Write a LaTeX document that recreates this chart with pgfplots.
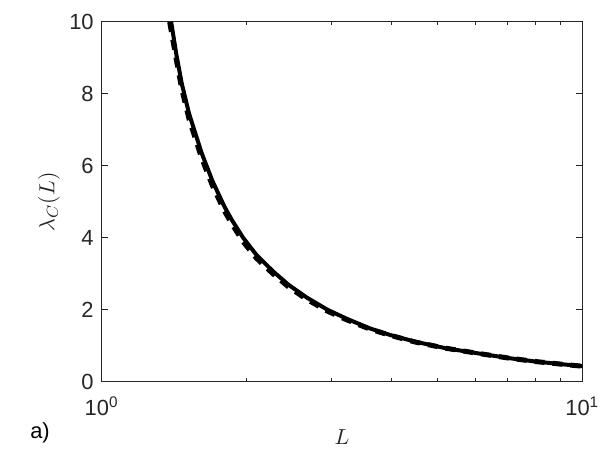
\documentclass[border=0pt]{standalone}
\usepackage{fontspec}
\setmainfont{Liberation Sans}
\usepackage{pgfplots}
\pgfplotsset{compat=1.18}
\definecolor{axgray}{RGB}{38,38,38}
\begin{document}
\begin{tikzpicture}
\useasboundingbox (-50.85bp,-34.15bp) rectangle (249.15bp,190.85bp);
\begin{axis}[
  at={(0,0)}, anchor=south west,
  scale only axis,
  width=240.3bp, height=179.85bp,
  xmode=log,
  xmin=1, xmax=10, ymin=0, ymax=10,
  xtick={1,10},
  xticklabels={10\textsuperscript{0},10\textsuperscript{1}},
  ytick={0,2,4,6,8,10},
  yticklabels={0,2,4,6,8,10},
  tick align=inside,
  major tick length=3bp,
  minor tick length=1.6bp,
  axis line style={axgray, line width=0.5bp},
  every tick/.style={axgray, line width=0.5bp},
  tick label style={font=\fontsize{11}{13}\selectfont, text=axgray},
  xticklabel style={yshift=-4bp},
  yticklabel style={xshift=-0.5bp},
  xlabel={$L$},
  ylabel={$\lambda_C(L)$},
  label style={font=\fontsize{11}{13}\selectfont, text=axgray},
  xlabel style={at={(axis description cs:0.5,-0.1537)}, anchor=center},
  ylabel style={at={(axis description cs:-0.1097,0.5)}, anchor=center},
  clip=true,
]
\addplot[black, line width=2.5bp, dash pattern=on 5bp off 4bp] coordinates {
(1.385,10.0) (1.43,8.95) (1.467,8.15) (1.52,7.30) (1.615,6.21) (1.70,5.45)
(1.80,4.75) (1.865,4.39) (1.97,3.89) (2.10,3.43) (2.276,2.99) (2.45,2.63)
(2.671,2.29) (2.95,1.96) (3.235,1.72) (3.6,1.47) (3.98,1.29) (4.5,1.10)
(5.2,0.93) (6.12,0.78) (7.0,0.66) (8.0,0.56) (9.0,0.49) (10.0,0.43)
};
\addplot[black, line width=2bp] coordinates {
(1.395,10.0) (1.43,9.1) (1.467,8.3) (1.52,7.45) (1.615,6.35) (1.70,5.58)
(1.80,4.87) (1.865,4.50) (1.97,4.00) (2.10,3.52) (2.276,3.06) (2.45,2.69)
(2.671,2.34) (2.95,2.00) (3.235,1.75) (3.6,1.49) (3.98,1.30) (4.5,1.11)
(5.2,0.93) (6.12,0.78) (7.0,0.66) (8.0,0.56) (9.0,0.49) (10.0,0.43)
};
\end{axis}
\node[font=\fontsize{11}{13}\selectfont, text=black] at (-30.85bp,-25.65bp) {a)};
\end{tikzpicture}
\end{document}
